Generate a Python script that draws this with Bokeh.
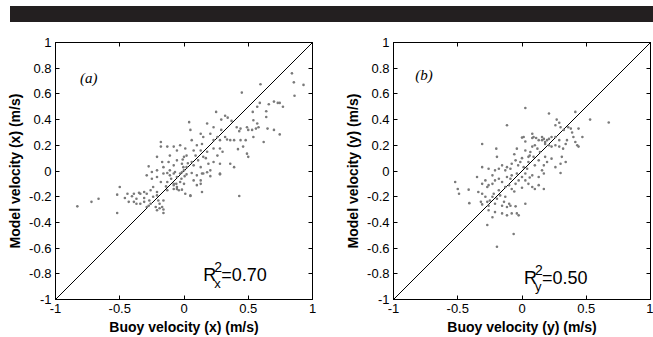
from bokeh.plotting import figure
from bokeh.models import FixedTicker, LinearAxis, CustomJSTickFormatter, Div, Range1d, ColumnDataSource
from bokeh.layouts import column, row
from bokeh.core.properties import value
from bokeh.embed import file_html
from bokeh.resources import INLINE

x_ticks = [-1, -0.5, 0, 0.5, 1]
y_ticks = [-1, -0.8, -0.6, -0.4, -0.2, 0, 0.2, 0.4, 0.6, 0.8, 1]
diag = [-1, 1]

# panel (a): (buoy velocity x, model velocity x)
pairs_x = [
    (0.84, 0.76), (0.855, 0.69), (0.93, 0.67), (0.86, 0.585), (0.595, 0.675), (0.45, 0.61),
    (0.57, 0.50), (0.59, 0.53), (0.66, 0.52), (0.70, 0.54), (0.73, 0.53), (0.77, 0.50), (0.745, 0.53),
    (0.64, 0.465), (0.64, 0.42), (0.535, 0.46), (0.57, 0.37), (0.58, 0.34), (0.65, 0.33), (0.54, 0.395),
    (0.32, 0.43), (0.34, 0.415), (0.29, 0.40), (0.25, 0.46), (0.37, 0.39), (0.41, 0.34), (0.43, 0.31),
    (0.44, 0.33), (0.49, 0.34), (0.50, 0.32), (0.53, 0.32), (0.56, 0.33), (0.48, 0.24), (0.44, 0.24),
    (0.39, 0.24), (0.36, 0.24), (0.335, 0.245), (0.54, 0.265), (0.62, 0.226), (0.70, 0.32), (0.745, 0.285),
    (0.49, 0.135), (0.50, 0.11), (0.42, 0.17), (0.46, 0.19),
    (0.18, 0.37), (0.23, 0.34), (0.13, 0.29), (0.15, 0.265), (0.205, 0.29), (0.26, 0.265), (0.29, 0.32),
    (0.28, 0.24), (0.32, 0.265), (0.23, 0.24), (0.14, 0.21),
    (0.04, 0.38), (0.05, 0.32), (0.06, 0.24), (0.10, 0.20), (0.075, 0.16), (0.13, 0.16), (0.18, 0.15),
    (0.23, 0.175), (0.28, 0.175), (0.30, 0.15), (0.26, 0.12), (0.15, 0.11), (0.11, 0.083), (0.06, 0.07),
    (0.02, 0.12), (0.01, 0.175), (-0.03, 0.20), (-0.055, 0.16), (-0.08, 0.19), (-0.11, 0.12), (-0.12, 0.07),
    (-0.055, 0.083), (-0.016, 0.057), (0.02, 0.03), (0.075, 0.044), (0.13, 0.03), (0.19, 0.057), (0.23, 0.07),
    (0.28, 0.057), (0.36, 0.057), (0.39, 0.03), (0.205, 0.005), (0.15, -0.02), (0.28, -0.02),
    (-0.18, 0.226), (-0.18, 0.19), (-0.13, 0.19), (-0.21, 0.11), (-0.17, 0.07), (-0.16, 0.03), (-0.21, 0.005),
    (-0.275, 0.036), (-0.25, -0.008), (-0.08, 0.044), (-0.11, 0.005), (-0.07, -0.008), (-0.03, -0.02), (0.0, 0.005),
    (-0.005, 0.03), (0.005, -0.04), (-0.01, 0.09), (0.0, 0.11), (0.03, 0.06), (0.09, 0.12), (0.17, 0.10),
    (-0.16, -0.02), (-0.13, -0.016), (-0.11, -0.034), (-0.08, -0.02), (-0.055, -0.047), (-0.016, -0.01),
    (0.02, -0.026), (0.06, -0.016), (0.10, -0.034), (0.14, -0.02), (0.18, -0.01), (0.205, -0.04), (0.28, -0.026),
    (0.13, -0.073), (0.075, -0.073), (0.0, -0.1), (-0.03, -0.086), (-0.08, -0.1), (-0.13, -0.086), (-0.18, -0.086),
    (-0.21, -0.047), (-0.25, -0.06), (-0.29, -0.034), (-0.24, -0.125), (-0.26, -0.15), (-0.21, -0.164),
    (-0.13, -0.15), (-0.08, -0.14), (-0.055, -0.125), (-0.016, -0.145), (0.01, -0.177), (0.05, -0.19),
    (0.10, -0.11), (0.13, -0.1), (-0.5, -0.125), (-0.665, -0.216), (-0.72, -0.24), (-0.83, -0.275),
    (-0.52, -0.184), (-0.52, -0.327), (-0.46, -0.21), (-0.43, -0.24), (-0.39, -0.24), (-0.37, -0.216),
    (-0.35, -0.17), (-0.31, -0.164), (-0.29, -0.177), (-0.27, -0.23), (-0.37, -0.255), (-0.34, -0.255),
    (-0.31, -0.24), (-0.29, -0.28), (-0.26, -0.255), (-0.24, -0.2), (-0.21, -0.19), (-0.20, -0.23),
    (-0.19, -0.255), (-0.17, -0.28), (-0.16, -0.23), (-0.16, -0.30), (-0.16, -0.327), (-0.21, -0.305),
    (-0.19, -0.29), (-0.22, -0.28), (-0.275, -0.27), (-0.31, -0.21), (-0.34, -0.177), (-0.39, -0.177),
    (-0.44, -0.177), (-0.405, -0.197), (-0.06, -0.1), (-0.055, -0.14), (-0.04, -0.15), (-0.08, -0.11),
    (0.05, -0.195), (0.14, -0.164), (0.43, -0.195), (-0.14, -0.12), (-0.10, -0.06), (-0.02, -0.06),
]

# panel (b): (buoy velocity y, model velocity y)
pairs_y = [
    (0.026, 0.49), (-0.117, 0.356), (-0.31, 0.21), (0.21, 0.447), (0.415, 0.46), (0.675, 0.377), (0.53, 0.40),
    (0.27, 0.40), (0.29, 0.375), (0.26, 0.356), (0.30, 0.34), (0.325, 0.32), (0.36, 0.34), (0.39, 0.30),
    (0.38, 0.33), (0.44, 0.33), (0.47, 0.265), (0.44, 0.19), (0.43, 0.20), (0.415, 0.226), (0.35, 0.24),
    (0.34, 0.21), (0.40, 0.265), (0.32, 0.174), (0.29, 0.24), (0.26, 0.265), (0.23, 0.265), (0.21, 0.25),
    (0.195, 0.24), (0.18, 0.226), (0.17, 0.25), (0.156, 0.265), (0.18, 0.21), (0.21, 0.20), (0.23, 0.19),
    (0.26, 0.20), (0.29, 0.19), (0.31, 0.11), (0.34, 0.07), (0.26, 0.03), (0.30, 0.057), (0.23, 0.096),
    (0.195, 0.07), (0.17, 0.044), (0.156, 0.005), (0.18, 0.11), (0.14, 0.148), (0.12, 0.174), (0.10, 0.20),
    (0.08, 0.19), (0.065, 0.148), (0.09, 0.11), (0.13, 0.083), (0.10, 0.044), (0.05, 0.07), (0.04, 0.018),
    (0.013, 0.03), (-0.013, 0.07), (-0.03, 0.044), (-0.05, 0.083), (-0.08, 0.057), (-0.09, 0.018),
    (-0.117, 0.03), (-0.13, 0.005), (-0.155, 0.044), (-0.18, 0.018), (-0.21, 0.005), (-0.20, 0.174),
    (-0.195, 0.11), (-0.31, 0.03), (-0.26, 0.018), (0.013, 0.265), (0.0, 0.26), (0.026, 0.23), (0.08, 0.257),
    (0.09, 0.265), (0.11, 0.257), (0.13, 0.24), (0.156, 0.24), (0.08, 0.29), (0.026, 0.16), (0.05, 0.11),
    (-0.04, 0.174), (0.06, 0.12), (0.0, 0.10), (-0.06, 0.13),
    (-0.52, -0.086), (-0.50, -0.14), (-0.49, -0.177), (-0.415, -0.145), (-0.41, -0.25), (-0.35, -0.047),
    (-0.34, -0.164), (-0.32, -0.24), (-0.31, -0.26), (-0.31, -0.177), (-0.285, -0.2), (-0.27, -0.24),
    (-0.26, -0.27), (-0.25, -0.23), (-0.23, -0.2), (-0.22, -0.177), (-0.21, -0.255), (-0.195, -0.216),
    (-0.18, -0.15), (-0.17, -0.19), (-0.155, -0.27), (-0.14, -0.24), (-0.13, -0.2), (-0.117, -0.28),
    (-0.10, -0.255), (-0.09, -0.27), (-0.05, -0.275), (-0.04, -0.33), (-0.065, -0.49), (-0.195, -0.59),
    (-0.27, -0.42), (-0.26, -0.305), (-0.23, -0.36), (-0.21, -0.32), (-0.155, -0.33), (-0.117, -0.345),
    (-0.08, -0.33), (-0.026, -0.345), (0.026, -0.255), (-0.26, -0.11), (-0.23, -0.1), (-0.21, -0.073),
    (-0.18, -0.06), (-0.155, -0.086), (-0.13, -0.125), (-0.10, -0.11), (-0.08, -0.14), (-0.05, -0.1),
    (-0.026, -0.073), (0.0, -0.047), (0.026, -0.073), (0.05, -0.1), (0.08, -0.125), (0.10, -0.14),
    (0.13, -0.11), (0.17, -0.14), (-0.117, -0.047), (-0.08, -0.034), (-0.04, -0.02), (0.026, -0.02),
    (0.08, -0.034), (0.13, -0.047), (0.17, -0.02), (0.30, -0.016), (-0.285, -0.073), (-0.23, -0.034),
    (-0.31, -0.1), (-0.27, -0.125), (-0.06, -0.16), (0.0, -0.13), (-0.09, -0.06), (0.06, -0.05),
]

xa = [p[0] for p in pairs_x]
ya = [p[1] for p in pairs_x]
xb = [p[0] for p in pairs_y]
yb = [p[1] for p in pairs_y]

panels = [
    dict(bx=xa, my=ya, tag="(a)", sub="x", r2="=0.70", xlabel="Buoy velocity (x) (m/s)",
         ylabel="Model velocity (x) (m/s)", width=330, bl=55, br=18, tag_xy=(-0.81, 0.72), r2_xy=(0.15, -0.813)),
    dict(bx=xb, my=yb, tag="(b)", sub="y", r2="=0.50", xlabel="Buoy velocity (y) (m/s)",
         ylabel="Model velocity (y) (m/s)", width=323, bl=63, br=3, tag_xy=(-0.83, 0.745), r2_xy=(0.015, -0.835)),
]

FONT = "Liberation Sans"
fmt = CustomJSTickFormatter(code="return tick.toString();")
blank = CustomJSTickFormatter(code="return '';")


def style_axis(ax, ticks, label):
    ax.ticker = FixedTicker(ticks=ticks)
    ax.minor_tick_line_color = None
    ax.major_tick_in = 4
    ax.major_tick_out = 0
    ax.axis_line_color = "black"
    ax.major_tick_line_color = "black"
    ax.major_label_text_font = FONT
    ax.major_label_text_font_size = "13px"
    ax.major_label_text_color = "black"
    if label is None:
        ax.formatter = blank
        ax.major_label_standoff = 0
        ax.axis_label = None
    else:
        ax.formatter = fmt
        ax.major_label_standoff = 4
        ax.axis_label = label
        ax.axis_label_text_font = FONT
        ax.axis_label_text_font_style = "bold"
        ax.axis_label_text_font_size = "14px"
        ax.axis_label_text_color = "black"
        ax.axis_label_standoff = 3


figs = []
for d in panels:
    p = figure(width=d["width"], height=307, x_range=Range1d(-1, 1), y_range=Range1d(-1, 1),
               output_backend="svg", toolbar_location=None,
               min_border_left=d["bl"], min_border_right=d["br"], min_border_top=12, min_border_bottom=38)
    p.grid.visible = False
    p.outline_line_color = "black"
    p.background_fill_color = "white"
    p.border_fill_color = "white"
    style_axis(p.xaxis[0], x_ticks, d["xlabel"])
    style_axis(p.yaxis[0], y_ticks, d["ylabel"])
    top = LinearAxis()
    style_axis(top, x_ticks, None)
    p.add_layout(top, "above")
    right = LinearAxis()
    style_axis(right, y_ticks, None)
    p.add_layout(right, "right")

    p.line(x=diag, y=diag, line_color="black", line_width=1)
    src = ColumnDataSource(dict(x=d["bx"], y=d["my"]))
    p.scatter(x="x", y="y", source=src, size=2.6, marker="circle", fill_color="#7a7a7a",
              line_color=None)

    tx, ty = d["tag_xy"]
    p.text(x=[tx], y=[ty], text=[d["tag"]], text_font=value("Liberation Serif"),
           text_font_style="italic", text_font_size="15px", text_baseline="middle", text_color="black")
    rx, ry = d["r2_xy"]
    p.text(x=[rx], y=[ry], text=["R"], text_font=value(FONT), text_font_size="18px",
           text_baseline="alphabetic", text_color="black")
    p.text(x=[rx], y=[ry], text=["2"], text_font=value(FONT), text_font_size="14px",
           text_baseline="alphabetic", text_color="black", x_offset=11, y_offset=-8)
    p.text(x=[rx], y=[ry], text=[d["sub"]], text_font=value(FONT), text_font_size="13px",
           text_baseline="alphabetic", text_color="black", x_offset=11, y_offset=8)
    p.text(x=[rx], y=[ry], text=[d["r2"]], text_font=value(FONT), text_font_size="18px",
           text_baseline="alphabetic", text_color="black", x_offset=18)
    figs.append(p)

bar = Div(text='<div style="margin-left:10px;margin-top:6px;height:16px;width:643px;background:#231f20"></div>',
          width=653, height=30, margin=(0, 0, 0, 0))

layout = column(bar, row(*figs))
open("out.html", "w").write(file_html(layout, INLINE))
